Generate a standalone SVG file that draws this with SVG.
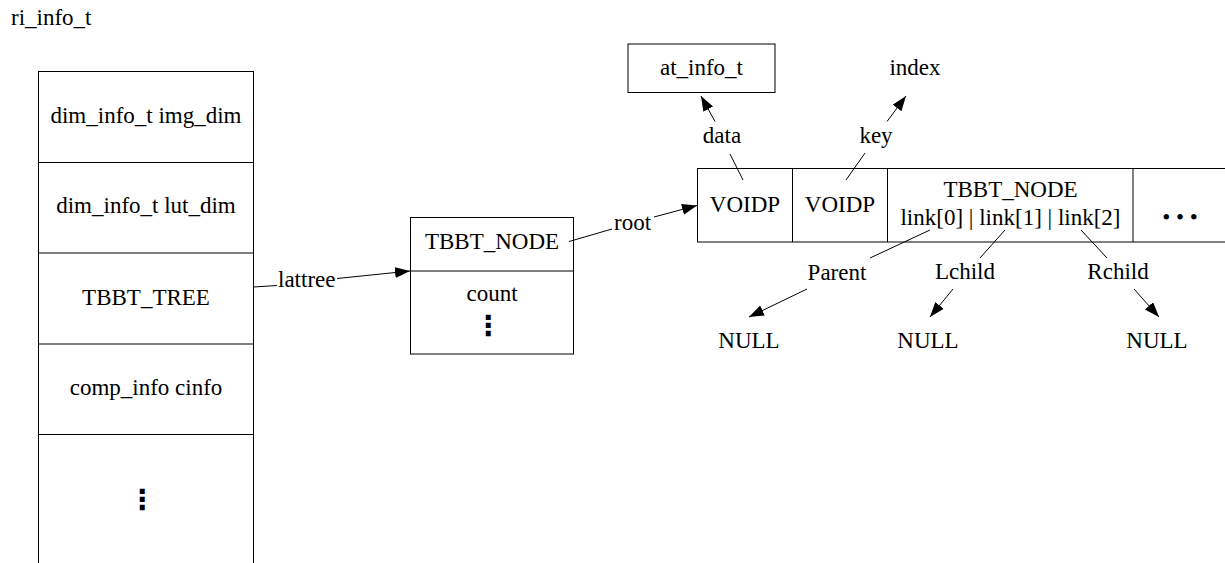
<svg xmlns="http://www.w3.org/2000/svg" width="1225" height="563" viewBox="0 0 1225 563" font-family="'Liberation Serif', 'Nimbus Roman', 'DejaVu Serif', serif">
<style>
text{font-family:'Liberation Serif','Nimbus Roman','DejaVu Serif',serif;font-size:23px;fill:#000}
.c{text-anchor:middle}
.box{fill:none;stroke:#000;stroke-width:1}
.e{stroke:#000;stroke-width:1;fill:none}
.vd{font-family:'DejaVu Sans',sans-serif;font-weight:bold;font-size:28px;text-anchor:middle}
</style>
<defs>
<marker id="ah" markerUnits="userSpaceOnUse" markerWidth="16" markerHeight="12" refX="15" refY="5.5" orient="auto">
<path d="M0,0 L15,5.5 L0,11 z" fill="#000"/>
</marker>
</defs>
<rect width="1225" height="563" fill="#fff"/>
<text x="11" y="25">ri_info_t</text>

<g id="ri_info_t">
<rect class="box" x="38.5" y="71.5" width="215" height="500"/>
<line class="e" x1="38.5" y1="162.5" x2="253.5" y2="162.5"/>
<line class="e" x1="38.5" y1="253" x2="253.5" y2="253"/>
<line class="e" x1="38.5" y1="344" x2="253.5" y2="344"/>
<line class="e" x1="38.5" y1="434.5" x2="253.5" y2="434.5"/>
<text class="c" x="146" y="123">dim_info_t img_dim</text>
<text class="c" x="146" y="213">dim_info_t lut_dim</text>
<text class="c" x="146" y="305">TBBT_TREE</text>
<text class="c" x="146" y="395">comp_info cinfo</text>
<text class="vd" x="142" y="509">⋮</text>
</g>

<g id="tbbt_tree_node">
<rect class="box" x="410.5" y="217.5" width="163" height="136.5"/>
<line class="e" x1="410.5" y1="271" x2="573.5" y2="271"/>
<text class="c" x="492" y="249">TBBT_NODE</text>
<text class="c" x="492" y="301">count</text>
<text class="vd" x="488" y="335">⋮</text>
</g>

<g id="tbbt_node">
<rect class="box" x="697.5" y="168.5" width="540" height="73.5"/>
<line class="e" x1="792.5" y1="168.5" x2="792.5" y2="242"/>
<line class="e" x1="887.5" y1="168.5" x2="887.5" y2="242"/>
<line class="e" x1="1133" y1="168.5" x2="1133" y2="242"/>
<text class="c" x="745" y="212">VOIDP</text>
<text class="c" x="840" y="212">VOIDP</text>
<text class="c" x="1010.5" y="197">TBBT_NODE</text>
<text class="c" x="1010.5" y="225">link[0] | link[1] | link[2]</text>
<text class="c" x="1180" y="225">• • •</text>
</g>

<g id="at_info_t">
<rect class="box" x="628" y="44" width="147" height="48.5"/>
<text class="c" x="701.5" y="75">at_info_t</text>
</g>

<g id="index"><text class="c" x="915" y="75">index</text></g>
<g id="null1"><text class="c" x="749" y="348">NULL</text></g>
<g id="null2"><text class="c" x="928" y="348">NULL</text></g>
<g id="null3"><text class="c" x="1157" y="348">NULL</text></g>

<g id="connectors">
<line class="e" x1="253.5" y1="287" x2="277" y2="285.5"/>
<text x="278" y="287">lattree</text>
<line class="e" x1="337" y1="278.5" x2="410" y2="271" marker-end="url(#ah)"/>

<line class="e" x1="569" y1="241.5" x2="612" y2="229"/>
<text x="614" y="230">root</text>
<line class="e" x1="654" y1="217" x2="697" y2="205.5" marker-end="url(#ah)"/>

<line class="e" x1="743" y1="180" x2="730" y2="154"/>
<text class="c" x="722" y="143">data</text>
<line class="e" x1="715" y1="121.5" x2="701" y2="96" marker-end="url(#ah)"/>

<line class="e" x1="846" y1="180" x2="865" y2="153"/>
<text class="c" x="876" y="143">key</text>
<line class="e" x1="887" y1="121.5" x2="906" y2="96" marker-end="url(#ah)"/>

<line class="e" x1="930" y1="230" x2="870" y2="258"/>
<text class="c" x="837" y="280">Parent</text>
<line class="e" x1="807" y1="289" x2="749" y2="317" marker-end="url(#ah)"/>

<line class="e" x1="1005" y1="230" x2="980" y2="258"/>
<text class="c" x="965" y="279">Lchild</text>
<line class="e" x1="953" y1="289" x2="930" y2="317" marker-end="url(#ah)"/>

<line class="e" x1="1081" y1="230" x2="1107" y2="258"/>
<text class="c" x="1118" y="279">Rchild</text>
<line class="e" x1="1134" y1="289" x2="1159" y2="317" marker-end="url(#ah)"/>
</g>
</svg>
